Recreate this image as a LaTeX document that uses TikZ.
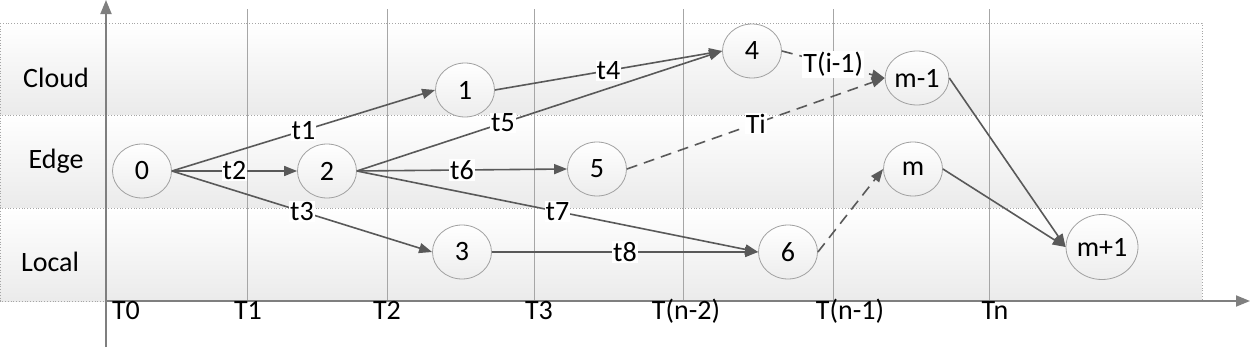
\documentclass[tikz,border=0pt]{standalone}
\usepackage{fontspec}
\setmainfont{Carlito}
\usetikzlibrary{shapes.geometric,arrows.meta}
\definecolor{edgegray}{HTML}{595959}
\definecolor{axisgray}{HTML}{7F7F7F}
\definecolor{gridgray}{HTML}{A6A6A6}
\definecolor{nodegray}{HTML}{A0A0A0}
\tikzset{
  txt/.style={text=black, font=\fontsize{28}{32}\selectfont},
  lane/.style={draw=gridgray, dotted, line width=0.8pt, top color=white, bottom color=black!8},
  task/.style={ellipse, draw=nodegray, line width=0.8pt, top color=white, bottom color=black!7,
    minimum width=59pt, minimum height=54pt, inner sep=0pt, txt},
  flow/.style={draw=edgegray, line width=1.6pt, -{Triangle[length=13pt,width=10pt]}},
  dflow/.style={flow, dash pattern=on 11pt off 7pt},
  lbl/.style={fill=white, inner sep=1pt, txt},
  tick/.style={anchor=base, txt},
  lanelbl/.style={anchor=base, txt},
  gridline/.style={draw=gridgray, line width=0.8pt},
  axis/.style={draw=axisgray, line width=1.8pt, -{Triangle[length=14pt,width=11pt]}}
}
\begin{document}
\begin{tikzpicture}[x=1pt,y=-1pt]
\useasboundingbox (0,0) rectangle (1250,348);
% lanes
\path[lane] (0,23) rectangle (1202,115);
\path[lane] (0,115) rectangle (1202,208);
\path[lane] (0,208) rectangle (1202,301);
% grid lines
\foreach \x in {247,387,534,683,833,989}
  \draw[gridline] (\x,9) -- (\x,301);
% axes
\coordinate (origin) at (106,301);
\coordinate (ytop) at (106,0);
\coordinate (ybot) at (106,347);
\coordinate (xend) at (1250,301);
\draw[axis] (ybot) -- (ytop);
\draw[axis] (origin) -- (xend);
% lane labels
\node[lanelbl] (lcloud) at (56,87) {Cloud};
\node[lanelbl] (ledge) at (56,168) {Edge};
\node[lanelbl] (llocal) at (50,271) {Local};
% time labels
\node[tick] (T0) at (126,319) {T0};
\node[tick] (T1) at (248,319) {T1};
\node[tick] (T2) at (387,319) {T2};
\node[tick] (T3) at (539,319) {T3};
\node[tick] (Tn2) at (686,319) {T(n-2)};
\node[tick] (Tn1) at (850,319) {T(n-1)};
\node[tick] (Tn) at (995,319) {Tn};
% task nodes
\node[task] (n0) at (142,171) {0};
\node[task] (n2) at (327,171) {2};
\node[task] (n1) at (465,90) {1};
\node[task] (n3) at (462,252) {3};
\node[task] (n5) at (597,169) {5};
\node[task] (n4) at (752,51) {4};
\node[task] (n6) at (788,252) {6};
\node[task] (nm1) at (917,78) {m-1};
\node[task] (nm) at (913,169) {m};
\node[task, minimum width=72pt, minimum height=65pt] (nmp1) at (1102,247) {m+1};
% connectors
\draw[flow] (n0.east) -- node[lbl] {t1} (n1.west);
\draw[flow] (n0.east) -- node[lbl] {t2} (n2.west);
\draw[flow] (n0.east) -- node[lbl] {t3} (n3.west);
\draw[flow] (n1.east) -- node[lbl] {t4} (n4.west);
\draw[flow] (n2.east) -- node[lbl, pos=0.4] {t5} (n4.west);
\draw[flow] (n2.east) -- node[lbl] {t6} (n5.west);
\draw[flow] (n2.east) -- node[lbl] {t7} (n6.west);
\draw[flow] (n3.east) -- node[lbl] {t8} (n6.west);
\draw[dflow] (n4.east) -- node[lbl] {T(i-1)} (nm1.west);
\draw[dflow] (n5.east) -- node[lbl] {Ti} (nm1.west);
\draw[dflow] (n6.east) -- (nm.west);
\draw[flow] (nm1.east) -- (nmp1.west);
\draw[flow] (nm.east) -- (nmp1.west);
\end{tikzpicture}
\end{document}
